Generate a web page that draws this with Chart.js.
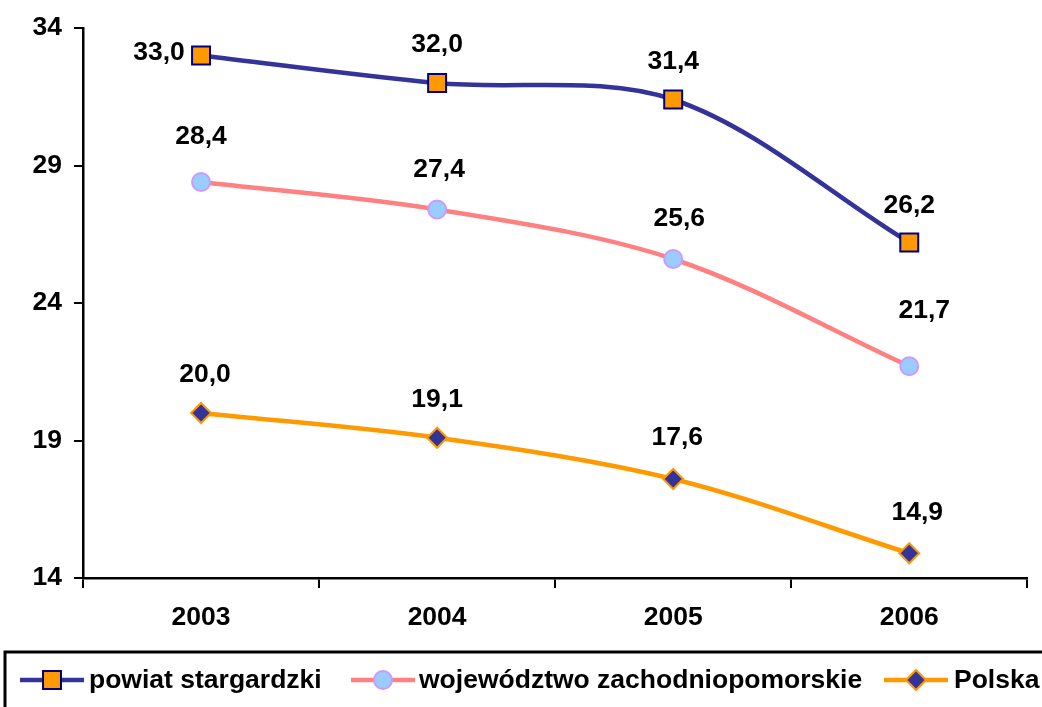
<!DOCTYPE html>
<html>
<head>
<meta charset="utf-8">
<script src="https://cdn.jsdelivr.net/npm/chart.js@4/dist/chart.umd.min.js"></script>
<style>
    body { margin: 0; background: #fff; }
    #wrap { width: 1042px; height: 707px; position: relative; }
</style>
</head>
<body>
<div id="wrap"><canvas id="lineChart"></canvas></div>
<script>
    var years = ['2003', '2004', '2005', '2006'];
    var powiat = [33.0, 32.0, 31.4, 26.2];
    var wojewodztwo = [28.4, 27.4, 25.6, 21.7];
    var polska = [20.0, 19.1, 17.6, 14.9];
    var seriesNames = ['powiat stargardzki', 'województwo zachodniopomorskie', 'Polska'];
    var yTicks = [14, 19, 24, 29, 34];

    var FONT = '"Liberation Sans", Arial, sans-serif';
    var FSIZE = 26.5;

    // label nudges (dx, dy from the point), default is straight above
    var labelNudge = {
        '0-0': [-42, -3],
        '0-3': [0, -37],
        '1-0': [0, -45],
        '1-1': [2, -40],
        '1-2': [6, -40],
        '1-3': [15, -56],
        '2-0': [4, -38],
        '2-2': [4, -41],
        '2-3': [8, -41]
    };

    var valueLabels = {
        id: 'valueLabels',
        afterDatasetsDraw: function (chart) {
            var ctx = chart.ctx;
            ctx.save();
            ctx.font = 'bold ' + FSIZE + 'px ' + FONT;
            ctx.fillStyle = '#000';
            ctx.textAlign = 'center';
            ctx.textBaseline = 'middle';
            chart.data.datasets.forEach(function (ds, s) {
                chart.getDatasetMeta(s).data.forEach(function (pt, i) {
                    var n = labelNudge[s + '-' + i] || [0, -38];
                    var txt = ds.data[i].toFixed(1).replace('.', ',');
                    ctx.fillText(txt, pt.x + n[0], pt.y + n[1]);
                });
            });
            ctx.restore();
        }
    };

    // legend drawn by hand: Excel style line + marker
    var boxLegend = {
        id: 'boxLegend',
        afterDraw: function (chart) {
            var ctx = chart.ctx;
            ctx.save();
            ctx.strokeStyle = '#000';
            ctx.lineWidth = 3;
            ctx.strokeRect(5, 652, 1060, 100);
            var items = [
                {x: 20, tx: 89},
                {x: 351, tx: 419},
                {x: 884, tx: 954}
            ];
            var y = 680;
            chart.data.datasets.forEach(function (ds, s) {
                var it = items[s];
                ctx.strokeStyle = ds.borderColor;
                ctx.lineWidth = 4.5;
                ctx.beginPath();
                ctx.moveTo(it.x, y);
                ctx.lineTo(it.x + 64, y);
                ctx.stroke();
                ctx.fillStyle = ds.pointBackgroundColor;
                ctx.strokeStyle = ds.pointBorderColor;
                ctx.lineWidth = ds.pointBorderWidth;
                Chart.helpers.drawPoint(ctx, {
                    pointStyle: ds.pointStyle,
                    radius: ds.pointRadius,
                    borderWidth: ds.pointBorderWidth,
                    rotation: 0
                }, it.x + 32, y);
                ctx.fillStyle = '#000';
                ctx.font = 'bold ' + FSIZE + 'px ' + FONT;
                ctx.textAlign = 'left';
                ctx.textBaseline = 'middle';
                ctx.fillText(seriesNames[s], it.tx, y + 1);
            });
            ctx.restore();
        }
    };

    var lineData = {
        labels: years,
        datasets: [
            {
                label: seriesNames[0],
                data: powiat,
                borderColor: '#333399',
                borderWidth: 4.5,
                tension: 0.33,
                pointStyle: 'rect',
                pointRadius: 12.7,
                pointBackgroundColor: '#FF9900',
                pointBorderColor: '#000080',
                pointBorderWidth: 2
            },
            {
                label: seriesNames[1],
                data: wojewodztwo,
                borderColor: '#FF8080',
                borderWidth: 4.5,
                tension: 0.33,
                pointStyle: 'circle',
                pointRadius: 9,
                pointBackgroundColor: '#99CCFF',
                pointBorderColor: '#CC99FF',
                pointBorderWidth: 2
            },
            {
                label: seriesNames[2],
                data: polska,
                borderColor: '#FF9900',
                borderWidth: 4.5,
                tension: 0.33,
                pointStyle: 'rectRot',
                pointRadius: 10,
                pointBackgroundColor: '#333399',
                pointBorderColor: '#FF9900',
                pointBorderWidth: 2
            }
        ]
    };

    var lineOptions = {
        responsive: true,
        maintainAspectRatio: false,
        animation: false,
        layout: {padding: {top: 28, right: 13, bottom: 69, left: 0}},
        plugins: {legend: {display: false}, tooltip: {enabled: false}},
        scales: {
            x: {
                offset: true,
                grid: {offset: true, drawOnChartArea: false, tickLength: 10, color: '#000', lineWidth: 2},
                border: {color: '#000', width: 2.5},
                ticks: {color: '#000', padding: 14, font: {family: FONT, size: FSIZE, weight: 'bold'}},
                afterFit: function (scale) { scale.height = 60; }
            },
            y: {
                min: 14,
                max: 34,
                afterBuildTicks: function (scale) {
                    scale.ticks = yTicks.map(function (v) { return {value: v}; });
                },
                grid: {drawOnChartArea: false, tickLength: 9, color: '#000', lineWidth: 2},
                border: {color: '#000', width: 2.5},
                ticks: {color: '#000', padding: 12, font: {family: FONT, size: FSIZE, weight: 'bold'}},
                afterFit: function (scale) { scale.width = 83; }
            }
        }
    };

    var ctx = document.getElementById('lineChart').getContext('2d');
    new Chart(ctx, {type: 'line', data: lineData, options: lineOptions, plugins: [valueLabels, boxLegend]});
</script>
</body>
</html>
